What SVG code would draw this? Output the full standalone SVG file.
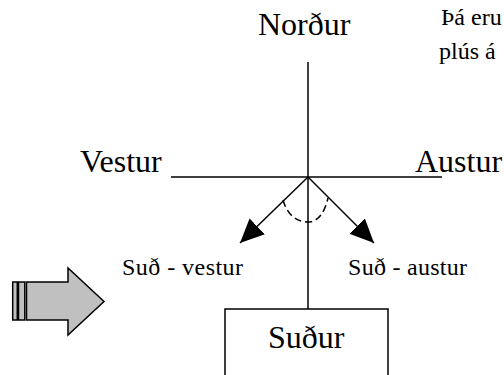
<svg xmlns="http://www.w3.org/2000/svg" width="504" height="375" viewBox="0 0 504 375">
<defs>
<marker id="ah" markerUnits="userSpaceOnUse" markerWidth="26" markerHeight="22" refX="24" refY="11" orient="auto">
<path d="M0,0 L24,11 L0,22 Z" fill="#000"/>
</marker>
<style>
.t{font-family:"Liberation Serif","Times New Roman",serif;fill:#000}
.big{font-size:32px}
.sm{font-size:24px}
.nt{font-size:24px}
.ln{stroke:#000;stroke-width:1.5;fill:none}
</style>
</defs>
<rect width="504" height="375" fill="#fff"/>
<g id="connectors">
<line class="ln" x1="308" y1="62" x2="308" y2="309"/>
<line class="ln" x1="171" y1="177" x2="442" y2="177"/>
<line class="ln" x1="308" y1="177" x2="240" y2="243" marker-end="url(#ah)"/>
<line class="ln" x1="308" y1="177" x2="374" y2="243" marker-end="url(#ah)"/>
<path class="ln" d="M283,200 C287,214 296,222 308,222 C319,222 325,211 328,198" stroke-dasharray="7,4"/>
</g>
<g id="nordur"><text class="t big" x="258" y="35">Norður</text></g>
<g id="vestur"><text class="t big" x="80" y="172">Vestur</text></g>
<g id="austur"><text class="t big" x="415" y="172">Austur</text></g>
<g id="sudvestur"><text class="t sm" x="122" y="275" textLength="121" lengthAdjust="spacing">Suð - vestur</text></g>
<g id="sudaustur"><text class="t sm" x="348" y="275" textLength="119" lengthAdjust="spacing">Suð - austur</text></g>
<g id="sudur">
<rect x="225" y="309" width="163" height="80" fill="#fff" stroke="#000" stroke-width="1.5"/>
<text class="t big" x="268" y="348">Suður</text>
</g>
<g id="note">
<text class="t nt" x="441" y="25">Þá eru</text>
<text class="t nt" x="439" y="59">plús á</text>
</g>
<g id="bigarrow" fill="#c0c0c0" stroke="#000" stroke-width="1.5">
<rect x="12.7" y="282" width="4.6" height="38"/>
<rect x="18.5" y="282" width="6.3" height="38"/>
<path d="M26.5,282 L68,282 L68,268 L104,301.5 L68,335 L68,320 L26.5,320 Z"/>
</g>
</svg>
